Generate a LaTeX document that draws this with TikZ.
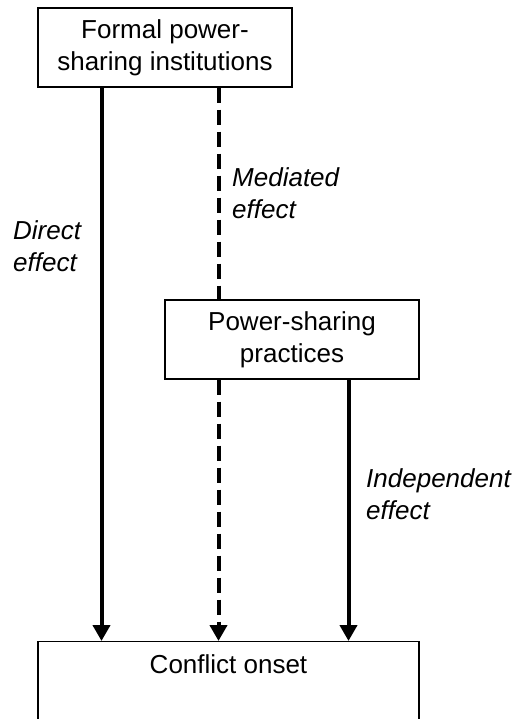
\documentclass[tikz,border=0pt]{standalone}
\usepackage{fontspec}
\setmainfont{Liberation Sans}
\usetikzlibrary{arrows.meta}

\tikzset{
	box/.style={draw, line width=1.3pt, minimum width=254pt, minimum height=79pt, inner sep=0pt, align=center},
	effect/.style={line width=4pt, -{Triangle[length=16pt, width=17pt]}},
	mediated/.style={line width=4pt, dash pattern=on 15pt off 7pt},
	label/.style={font=\fontsize{26}{32}\selectfont\itshape, align=left, anchor=west, inner sep=0pt}
}

\begin{document}
\begin{tikzpicture}[x=1pt, y=-1pt, font=\fontsize{26}{32}\selectfont]
    		\path[use as bounding box, clip] (0,0) rectangle (517,719);
    		\node[box] (formal) at (165,47.5) {Formal power-\\sharing institutions};
    		\node[box] (practices) at (292,339.5) {Power-sharing\\practices};
    		\node[box, anchor=north, minimum width=381pt, text height=24pt, text depth=120pt, inner ysep=8pt] (onset) at (228.5,641) {Conflict onset};
    		\coordinate (direct) at (101.5,0);
    		\coordinate (mediated) at (218.5,0);
    		\coordinate (independent) at (348.5,0);
    		\draw[effect] (formal.south -| direct) -- (onset.north -| direct);
    		\draw[mediated] (formal.south -| mediated) -- (practices.north -| mediated);
    		\draw[mediated, effect] (practices.south -| mediated) -- (onset.north -| mediated);
    		\draw[effect] (practices.south -| independent) -- (onset.north -| independent);
    		\node[label] (directlabel) at (13,246) {Direct\\effect};
    		\node[label] (mediatedlabel) at (232,193) {Mediated\\effect};
    		\node[label] (independentlabel) at (366,494) {Independent\\effect};
    	\end{tikzpicture}
\end{document}
